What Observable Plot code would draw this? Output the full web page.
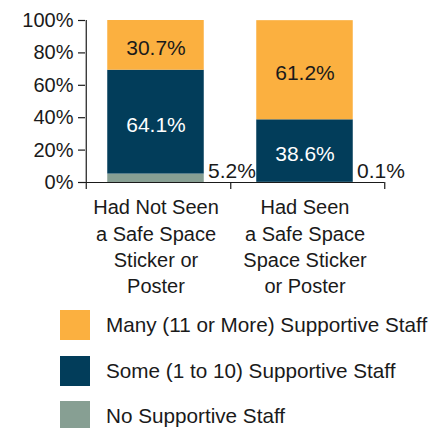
<!DOCTYPE html>
<html>
<head>
<meta charset="utf-8">
<script src="https://cdn.jsdelivr.net/npm/d3@7"></script>
<script src="https://cdn.jsdelivr.net/npm/@observablehq/plot@0.6"></script>
<style>
  html, body { margin: 0; padding: 0; background: #fff; }
  body { width: 447px; height: 428px; overflow: hidden; font-family: "Liberation Sans", Arial, sans-serif; color: #1a1a1a; }
  #legend { position: relative; }
  .row { display: flex; align-items: center; height: 30px; margin-bottom: 15.5px; }
  .sw { width: 30px; height: 30px; margin-left: 60px; margin-right: 16px; flex: none; }
  .lab { font-size: 20.7px; white-space: nowrap; }
</style>
</head>
<body>
<div id="chart"></div>
<div id="legend"></div>
<script>
// ---- data ----
const categories = [
  "Had Not Seen\na Safe Space\nSticker or\nPoster",
  "Had Seen\na Safe Space\nSpace Sticker\nor Poster"
];
const series = [
  "No Supportive Staff",
  "Some (1 to 10) Supportive Staff",
  "Many (11 or More) Supportive Staff"
];
const noStaff = [5.2, 0.1];
const someStaff = [64.1, 38.6];
const manyStaff = [30.7, 61.2];
const yTicks = [0, 20, 40, 60, 80, 100];
const colors = ["#879f93", "#023d5a", "#fbb040"];

const valuesBySeries = [noStaff, someStaff, manyStaff];
const rows = [];
series.forEach((s, si) => {
  categories.forEach((c, ci) => {
    rows.push({category: c, series: s, value: valuesBySeries[si][ci]});
  });
});
const fmt = v => v.toFixed(1) + "%";
const ink = "#1a1a1a";

const chart = Plot.plot({
  width: 447,
  height: 300,
  marginLeft: 85,
  marginRight: 63,
  marginTop: 20,
  marginBottom: 118,
  style: {fontFamily: "'Liberation Sans', Arial, sans-serif", fontSize: "20px", color: ink, background: "white"},
  x: {domain: categories, padding: 0, axis: null},
  y: {domain: [0, 100], axis: null},
  color: {domain: series, range: colors},
  marks: [
    Plot.barY(rows, Plot.stackY({x: "category", y: "value", fill: "series", insetLeft: 26.25, insetRight: 26.25, dx: -5})),
    Plot.text(rows, Plot.stackY({
      x: "category", y: "value", z: "series",
      text: d => d.series === series[2] ? fmt(d.value) : "",
      fill: ink, fontSize: 21, dx: -5, dy: 3
    })),
    Plot.text(rows, Plot.stackY({
      x: "category", y: "value", z: "series",
      text: d => d.series === series[1] ? fmt(d.value) : "",
      fill: "white", fontSize: 21, dx: -5, dy: 3
    })),
    Plot.text(rows.filter(d => d.series === series[0]), {
      x: "category", text: d => fmt(d.value),
      frameAnchor: "bottom", lineAnchor: "middle", textAnchor: "start", dx: 47, dy: -11.5,
      fill: ink, fontSize: 21
    }),
    Plot.ruleY([0], {stroke: ink, strokeWidth: 1.2}),
    Plot.ruleX([categories[0]], {stroke: ink, strokeWidth: 1.2, dx: -74.75, insetBottom: -7}),
    Plot.ruleX([categories[1]], {y1: 0, y2: 0, stroke: ink, strokeWidth: 1.2, dx: -79.25, insetBottom: -7}),
    Plot.ruleX([categories[1]], {y1: 0, y2: 0, stroke: ink, strokeWidth: 1.2, dx: 74.75, insetBottom: -7}),
    Plot.axisY({ticks: yTicks, tickFormat: d => d + "%", tickSize: 7, tickPadding: 5, stroke: ink, strokeWidth: 1.2, fill: ink, fontSize: 20, label: null}),
    Plot.axisX({tickSize: 0, tickPadding: 13, lineHeight: 1.32, dx: -5, fill: ink, fontSize: 20, label: null})
  ]
});
document.getElementById("chart").appendChild(chart);

// ---- legend (top to bottom: Many, Some, No) ----
const legend = document.getElementById("legend");
legend.style.paddingTop = "10px";
series.slice().reverse().forEach(s => {
  const row = document.createElement("div");
  row.className = "row";
  const sw = document.createElement("div");
  sw.className = "sw";
  sw.style.background = colors[series.indexOf(s)];
  const lab = document.createElement("div");
  lab.className = "lab";
  lab.textContent = s;
  row.appendChild(sw);
  row.appendChild(lab);
  legend.appendChild(row);
});
</script>
</body>
</html>
